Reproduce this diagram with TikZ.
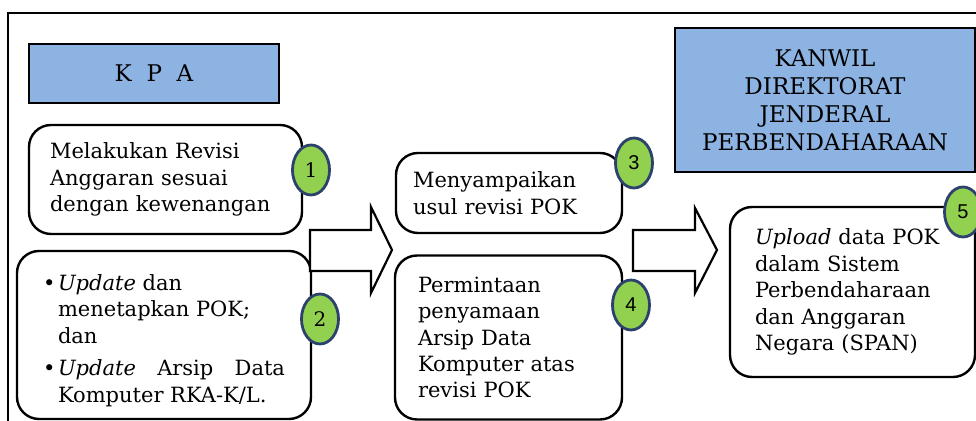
\documentclass[tikz,border=0pt]{standalone}
\usepackage{fontspec}
\setmainfont{DejaVu Serif}
\newfontfamily\numfont{Liberation Sans}
\usetikzlibrary{shapes.geometric, positioning}

\definecolor{headblue}{RGB}{141,179,226}
\definecolor{stepgreen}{RGB}{146,208,80}
\definecolor{ringblue}{RGB}{44,66,108}

\tikzset{
  head/.style={draw, line width=1.3pt, fill=headblue, align=center, inner sep=0pt,
    font=\fontsize{11.5}{14}\selectfont},
  task/.style={draw, line width=1.2pt, rounded corners=11pt, align=left, inner ysep=0pt,
    font=\fontsize{10.5}{13.2}\selectfont},
  num/.style={ellipse, draw=ringblue, line width=1.4pt, fill=stepgreen, minimum width=18.5pt,
    minimum height=25pt, inner sep=0pt, font=\numfont\fontsize{10}{11}\selectfont},
  bigarrow/.style={draw, line width=1.1pt, fill=white, line join=miter},
}

\begin{document}
\begin{tikzpicture}[x=0.5pt, y=-0.5pt]
  \useasboundingbox (0,0) rectangle (976,421);
  % frame
  \draw[line width=1pt] (8,421) -- (8,13) -- (976,13);

  % headers
  \node[head, minimum width=125pt, minimum height=29.5pt] (kpa) at (154,73.5) {K\ \ P\ \ A};
  \node[head, minimum width=150pt, minimum height=72pt] (kanwil) at (825,100)
    {KANWIL\\DIREKTORAT\\JENDERAL\\PERBENDAHARAAN};

  % KPA steps
  \node[task, minimum height=54.5pt, inner xsep=10.5pt, text width=115.5pt] (revisi) at (165.5,179.5)
    {Melakukan Revisi\\Anggaran sesuai\\dengan kewenangan};
  \node[task, minimum width=147pt, minimum height=84pt, inner xsep=0pt] (update) at (164,335)
    {\raisebox{-3pt}[\height][\depth]{\begin{tabular}{@{}p{7.5pt}@{}p{113.5pt}@{}}
       \textbullet & \textit{Update} dan\newline menetapkan POK;\newline dan\\[3pt]
       \textbullet & \textit{Update}\hfill Arsip\hfill Data\newline Komputer RKA-K/L.
     \end{tabular}}};

  % arrow to middle column
  \draw[bigarrow] (310,230) -- (371,230) -- (371,207) -- (392,250)
    -- (371,293) -- (371,271) -- (310,271) -- cycle;

  % middle steps
  \node[task, minimum height=40pt, inner xsep=8.5pt, text width=96pt] (usul) at (509,193)
    {Menyampaikan\\usul revisi POK};
  \node[task, minimum height=82pt, inner xsep=11.5pt, text width=90.5pt] (minta) at (508.5,337.5)
    {Permintaan\\penyamaan\\Arsip Data\\Komputer atas\\revisi POK};

  % arrow to Kanwil
  \draw[bigarrow] (633,230) -- (695,230) -- (695,208) -- (717,250)
    -- (695,293) -- (695,271) -- (633,271) -- cycle;

  % Kanwil step
  \node[task, minimum height=85pt, inner xsep=12.5pt, text width=97.5pt] (upload) at (852.5,292)
    {\textit{Upload} data POK\\dalam Sistem\\Perbendaharaan\\dan Anggaran\\Negara (SPAN)};

  % numbers
  \node[num, font=\fontsize{10}{11}\selectfont] (n1) at (311,170) {1};
  \node[num, font=\fontsize{10}{11}\selectfont] (n2) at (320,319) {2};
  \node[num] (n3) at (634,163) {3};
  \node[num] (n4) at (631,305) {4};
  \node[num] (n5) at (963,212) {5};
\end{tikzpicture}
\end{document}
